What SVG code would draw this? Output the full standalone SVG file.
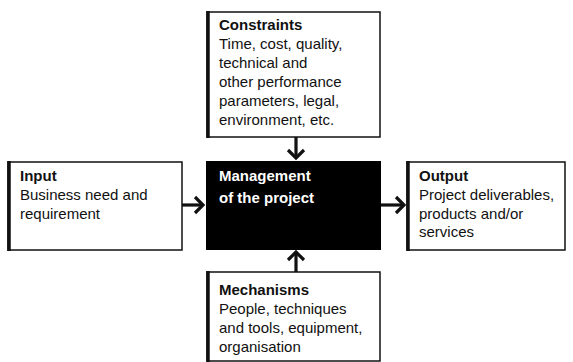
<svg xmlns="http://www.w3.org/2000/svg" width="573" height="362" viewBox="0 0 573 362">
<style>
.box{fill:#fff;stroke:#111;stroke-width:1.5}
.edge{stroke:#111;stroke-width:3.5}
.t{font-family:"Liberation Sans",Arial,sans-serif;font-size:15px;fill:#111}
.b{font-weight:bold}
.w{fill:#fff}
.c{fill:none;stroke:#111;stroke-width:3.2}
</style>
<rect width="573" height="362" fill="#fff"/>
<g id="constraints">
<rect class="box" x="207" y="12" width="173" height="125"/>
<line class="edge" x1="208" y1="11" x2="208" y2="138"/>
<text class="t"><tspan class="b" x="219" y="30">Constraints</tspan><tspan x="219" y="49">Time, cost, quality,</tspan><tspan x="219" y="68">technical and</tspan><tspan x="219" y="87">other performance</tspan><tspan x="219" y="106">parameters, legal,</tspan><tspan x="219" y="125">environment, etc.</tspan></text>
</g>
<g id="input">
<rect class="box" x="8" y="162" width="174" height="88"/>
<line class="edge" x1="9" y1="161" x2="9" y2="251"/>
<text class="t"><tspan class="b" x="20" y="181">Input</tspan><tspan x="20" y="200">Business need and</tspan><tspan x="20" y="219">requirement</tspan></text>
</g>
<g id="management">
<rect x="206" y="161" width="175" height="89" fill="#000"/>
<text class="t w b"><tspan x="219" y="181">Management</tspan><tspan x="219" y="203">of the project</tspan></text>
</g>
<g id="output">
<rect class="box" x="407" y="162" width="158" height="88"/>
<line class="edge" x1="408" y1="161" x2="408" y2="251"/>
<text class="t"><tspan class="b" x="419" y="181">Output</tspan><tspan x="419" y="200">Project deliverables,</tspan><tspan x="419" y="219">products and/or</tspan><tspan x="419" y="237">services</tspan></text>
</g>
<g id="mechanisms">
<rect class="box" x="207" y="272" width="173" height="89"/>
<line class="edge" x1="208" y1="271" x2="208" y2="362"/>
<text class="t"><tspan class="b" x="219" y="295">Mechanisms</tspan><tspan x="219" y="314">People, techniques</tspan><tspan x="219" y="333">and tools, equipment,</tspan><tspan x="219" y="352">organisation</tspan></text>
</g>
<g id="connectors">
<line class="c" x1="296" y1="137" x2="296" y2="158"/>
<polyline class="c" points="288,150 296,158 304,150"/>
<line class="c" x1="182" y1="205" x2="203" y2="205"/>
<polyline class="c" points="195,197 203,205 195,213"/>
<line class="c" x1="381" y1="205" x2="404" y2="205"/>
<polyline class="c" points="396,197 404,205 396,213"/>
<line class="c" x1="296" y1="272" x2="296" y2="252"/>
<polyline class="c" points="288,260 296,252 304,260"/>
</g>
</svg>
